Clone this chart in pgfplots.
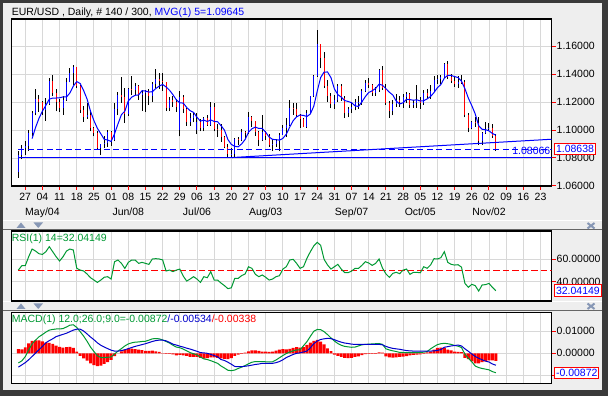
\documentclass[border=0pt]{standalone}
\usepackage{pgfplots}
\pgfplotsset{compat=1.18}
\usepackage{pgfplotstable}
\usepackage{fontspec}
\setmainfont{Liberation Sans}
\definecolor{framec}{HTML}{3A3A3A}
\definecolor{bgc}{HTML}{EEEEEE}
\definecolor{gridc}{HTML}{D8D8D8}
\definecolor{rsig}{HTML}{009933}
\definecolor{iconc}{HTML}{8797B5}
\definecolor{sigb}{HTML}{0000CC}
\definecolor{lblue}{HTML}{0000FF}
\newcommand{\fs}{\fontsize{10.5}{12}\selectfont}

\pgfplotstableread{
t o h l c ma
-2 1.0700 1.0848 1.0660 1.0825 nan
-1 1.0825 1.0890 1.0790 1.0873 nan
0 1.0873 1.0923 1.0818 1.0887 nan
1 1.0887 1.0997 1.0850 1.0982 nan
2 1.0982 1.1137 1.0960 1.1125 1.09384
3 1.1125 1.1290 1.1105 1.1224 1.10182
4 1.1224 1.1250 1.1130 1.1198 1.10832
5 1.1198 1.1205 1.1110 1.1146 1.11350
6 1.1146 1.1230 1.1065 1.1185 1.11756
7 1.1185 1.1370 1.1180 1.1348 1.12202
8 1.1348 1.1392 1.1240 1.1264 1.12282
9 1.1264 1.1290 1.1133 1.1200 1.12286
10 1.1200 1.1224 1.1130 1.1155 1.12304
11 1.1155 1.1245 1.1110 1.1215 1.12364
12 1.1215 1.1375 1.1210 1.1345 1.12358
13 1.1345 1.1445 1.1340 1.1407 1.12644
14 1.1407 1.1467 1.1325 1.1447 1.13138
15 1.1447 1.1452 1.1300 1.1316 1.13460
16 1.1316 1.1320 1.1120 1.1146 1.13322
17 1.1146 1.1170 1.1060 1.1093 1.12818
18 1.1093 1.1190 1.1080 1.1104 1.12212
19 1.1104 1.1140 1.0990 1.1012 1.11342
20 1.1012 1.1020 1.0955 1.0978 1.10666
21 1.0978 1.0990 1.0865 1.0874 1.10122
22 1.0874 1.0900 1.0820 1.0897 1.09730
23 1.0897 1.0960 1.0870 1.0906 1.09334
24 1.0906 1.1000 1.0880 1.0987 1.09284
25 1.0987 1.0990 1.0887 1.0926 1.09180
26 1.0926 1.1190 1.0920 1.1151 1.09734
27 1.1151 1.1275 1.1105 1.1247 1.10434
28 1.1247 1.1380 1.1195 1.1238 1.11098
29 1.1238 1.1300 1.1050 1.1112 1.11348
30 1.1112 1.1300 1.1100 1.1290 1.12076
31 1.1290 1.1385 1.1250 1.1285 1.12344
32 1.1285 1.1335 1.1250 1.1315 1.12480
33 1.1315 1.1320 1.1215 1.1251 1.12506
34 1.1251 1.1285 1.1135 1.1263 1.12808
35 1.1263 1.1285 1.1130 1.1280 1.12788
36 1.1280 1.1295 1.1180 1.1245 1.12708
37 1.1245 1.1345 1.1200 1.1330 1.12738
38 1.1330 1.1435 1.1300 1.1362 1.12960
39 1.1362 1.1405 1.1295 1.1350 1.13134
40 1.1350 1.1410 1.1280 1.1340 1.13254
41 1.1340 1.1345 1.1135 1.1157 1.13078
42 1.1157 1.1235 1.1135 1.1212 1.12842
43 1.1212 1.1245 1.1165 1.1202 1.12522
44 1.1202 1.1220 1.1130 1.1165 1.12152
45 1.1000 1.1280 1.0955 1.1235 1.11942
46 1.1235 1.1250 1.1120 1.1147 1.11922
47 1.1147 1.1155 1.1030 1.1056 1.11610
48 1.1056 1.1120 1.1030 1.1086 1.11378
49 1.1086 1.1125 1.1055 1.1107 1.11262
50 1.1000 1.1120 1.0970 1.1056 1.10904
51 1.1056 1.1080 1.0990 1.1014 1.10638
52 1.1014 1.1095 1.0990 1.1088 1.10702
53 1.1088 1.1110 1.1030 1.1039 1.10608
54 1.1039 1.1200 1.1030 1.1162 1.10718
55 1.1162 1.1190 1.0990 1.1004 1.10614
56 1.1004 1.1040 1.0950 1.1002 1.10590
57 1.1002 1.1045 1.0915 1.0948 1.10310
58 1.0948 1.0960 1.0870 1.0878 1.09988
59 1.0878 1.0900 1.0810 1.0826 1.09316
60 1.0826 1.0875 1.0808 1.0831 1.08970
61 1.0831 1.0945 1.0810 1.0935 1.08836
62 1.0935 1.0950 1.0890 1.0929 1.08798
63 1.0929 1.1010 1.0920 1.0983 1.09008
64 1.0983 1.0990 1.0940 1.0982 1.09320
65 1.0982 1.1130 1.0975 1.1090 1.09838
66 1.1090 1.1100 1.1020 1.1061 1.10090
67 1.1061 1.1065 1.0960 1.0989 1.10210
68 1.0989 1.0990 1.0885 1.0932 1.10108
69 1.0932 1.1110 1.0920 1.0983 1.10110
70 1.0983 1.0990 1.0930 1.0955 1.09840
71 1.0955 1.0970 1.0880 1.0891 1.09500
72 1.0891 1.0935 1.0850 1.0903 1.09328
73 1.0903 1.0935 1.0880 1.0923 1.09310
74 1.0923 1.0980 1.0850 1.0967 1.09278
75 1.0967 1.1035 1.0965 1.1017 1.09402
76 1.1017 1.1085 1.0950 1.1039 1.09698
77 1.1039 1.1215 1.1030 1.1160 1.10212
78 1.1160 1.1190 1.1110 1.1150 1.10666
79 1.1150 1.1190 1.1090 1.1106 1.10944
80 1.1106 1.1115 1.1015 1.1080 1.11070
81 1.1080 1.1085 1.1020 1.1025 1.11042
82 1.1025 1.1145 1.1015 1.1121 1.10964
83 1.1121 1.1245 1.1115 1.1241 1.11146
84 1.1241 1.1395 1.1235 1.1385 1.11704
85 1.1385 1.1714 1.1380 1.1612 1.12768
86 1.1612 1.1615 1.1440 1.1516 1.13750
87 1.1516 1.1560 1.1300 1.1317 1.14142
88 1.1317 1.1360 1.1200 1.1242 1.14144
89 1.1242 1.1265 1.1155 1.1183 1.13740
90 1.1183 1.1250 1.1150 1.1211 1.12938
91 1.1211 1.1330 1.1200 1.1312 1.12530
92 1.1312 1.1330 1.1210 1.1226 1.12348
93 1.1226 1.1245 1.1085 1.1120 1.12104
94 1.1120 1.1165 1.1090 1.1150 1.12038
95 1.1150 1.1190 1.1120 1.1167 1.11950
96 1.1167 1.1225 1.1140 1.1202 1.11730
97 1.1202 1.1245 1.1150 1.1203 1.11684
98 1.1203 1.1290 1.1180 1.1281 1.12006
99 1.1281 1.1360 1.1270 1.1338 1.12382
100 1.1338 1.1370 1.1300 1.1318 1.12684
101 1.1318 1.1330 1.1245 1.1262 1.12804
102 1.1262 1.1305 1.1245 1.1286 1.12970
103 1.1286 1.1435 1.1275 1.1431 1.13270
104 1.1431 1.1460 1.1285 1.1303 1.13200
105 1.1303 1.1330 1.1180 1.1195 1.12954
106 1.1195 1.1210 1.1085 1.1134 1.12698
107 1.1134 1.1215 1.1105 1.1187 1.12500
108 1.1187 1.1255 1.1165 1.1215 1.12068
109 1.1215 1.1245 1.1165 1.1199 1.11860
110 1.1199 1.1260 1.1160 1.1239 1.11948
111 1.1239 1.1275 1.1195 1.1256 1.12192
112 1.1256 1.1265 1.1160 1.1176 1.12170
113 1.1176 1.1215 1.1160 1.1194 1.12128
114 1.1194 1.1320 1.1160 1.1214 1.12158
115 1.1214 1.1235 1.1150 1.1194 1.12068
116 1.1194 1.1285 1.1180 1.1267 1.12090
117 1.1267 1.1290 1.1220 1.1243 1.12224
118 1.1243 1.1325 1.1220 1.1279 1.12394
119 1.1279 1.1385 1.1270 1.1356 1.12678
120 1.1356 1.1395 1.1330 1.1366 1.13022
121 1.1366 1.1390 1.1330 1.1381 1.13250
122 1.1381 1.1480 1.1370 1.1470 1.13704
123 1.1470 1.1495 1.1365 1.1381 1.13908
124 1.1381 1.1400 1.1335 1.1350 1.13896
125 1.1350 1.1380 1.1310 1.1327 1.13818
126 1.1327 1.1385 1.1300 1.1345 1.13746
127 1.1345 1.1390 1.1330 1.1343 1.13492
128 1.1343 1.1360 1.1090 1.1108 1.12946
129 1.1108 1.1125 1.0985 1.1016 1.12278
130 1.1016 1.1065 1.1005 1.1058 1.11740
131 1.1058 1.1090 1.1025 1.1048 1.11146
132 1.1048 1.1095 1.0895 1.0925 1.10310
133 1.0925 1.0985 1.0895 1.0977 1.10048
134 1.0977 1.1060 1.0970 1.1004 1.10024
135 1.1004 1.1050 1.0990 1.1015 1.09938
136 1.1015 1.1040 1.0945 1.0955 1.09752
137 1.0955 1.0975 1.0850 1.0864 1.09630
}\ohlc

\pgfplotstableread{
t rsi macd sig hist
-2 50.4 -0.0043 -0.0062 0.0019
-1 54.3 -0.0034 -0.0052 0.0018
0 54.3 -0.0015 -0.0042 0.0027
1 62.3 0.0015 -0.0029 0.0044
2 69.2 0.0042 -0.0014 0.0056
3 67.4 0.0059 0.0001 0.0058
4 65.0 0.0074 0.0016 0.0058
5 64.4 0.0084 0.0031 0.0053
6 66.8 0.0095 0.0047 0.0048
7 71.3 0.0104 0.0057 0.0047
8 66.8 0.0107 0.0065 0.0042
9 62.3 0.0109 0.0075 0.0034
10 58.5 0.0109 0.0080 0.0029
11 62.3 0.0111 0.0085 0.0026
12 67.4 0.0118 0.0090 0.0028
13 69.2 0.0126 0.0097 0.0029
14 68.3 0.0128 0.0104 0.0024
15 52.0 0.0116 0.0108 0.0008
16 50.4 0.0097 0.0108 -0.0011
17 49.6 0.0077 0.0100 -0.0023
18 46.9 0.0054 0.0087 -0.0033
19 43.6 0.0028 0.0073 -0.0045
20 41.5 0.0008 0.0061 -0.0053
21 39.4 -0.0011 0.0047 -0.0058
22 41.5 -0.0019 0.0036 -0.0055
23 44.0 -0.0019 0.0028 -0.0047
24 44.5 -0.0018 0.0021 -0.0039
25 42.4 -0.0016 0.0014 -0.0030
26 57.9 -0.0003 0.0010 -0.0013
27 59.4 0.0010 0.0010 0.0000
28 56.4 0.0021 0.0012 0.0009
29 51.9 0.0033 0.0016 0.0017
30 57.3 0.0042 0.0021 0.0021
31 59.4 0.0047 0.0026 0.0021
32 59.4 0.0050 0.0031 0.0019
33 56.4 0.0051 0.0035 0.0016
34 57.3 0.0053 0.0039 0.0014
35 56.4 0.0054 0.0043 0.0011
36 55.5 0.0059 0.0048 0.0011
37 60.3 0.0065 0.0053 0.0012
38 60.6 0.0066 0.0057 0.0009
39 60.3 0.0065 0.0059 0.0006
40 59.5 0.0060 0.0059 0.0001
41 49.6 0.0053 0.0056 -0.0003
42 50.4 0.0046 0.0049 -0.0003
43 49.0 0.0036 0.0041 -0.0005
44 50.4 0.0028 0.0037 -0.0009
45 51.3 0.0025 0.0032 -0.0007
46 45.0 0.0019 0.0028 -0.0009
47 40.6 0.0011 0.0023 -0.0012
48 42.4 0.0003 0.0019 -0.0016
49 44.5 -0.0002 0.0014 -0.0016
50 42.4 -0.0007 0.0009 -0.0016
51 39.4 -0.0017 0.0003 -0.0020
52 44.5 -0.0025 0.0002 -0.0024
53 43.6 -0.0028 0.0000 -0.0022
54 49.0 -0.0033 -0.0005 -0.0018
55 41.5 -0.0039 -0.0010 -0.0018
56 41.5 -0.0045 -0.0016 -0.0020
57 38.8 -0.0057 -0.0028 -0.0023
58 36.5 -0.0066 -0.0032 -0.0025
59 33.8 -0.0076 -0.0040 -0.0026
60 34.6 -0.0078 -0.0049 -0.0022
61 43.0 -0.0075 -0.0059 -0.0012
62 43.0 -0.0068 -0.0060 -0.0006
63 45.5 -0.0062 -0.0060 -0.0002
64 46.9 -0.0055 -0.0058 0.0003
65 53.4 -0.0047 -0.0056 0.0009
66 51.9 -0.0040 -0.0053 0.0013
67 46.6 -0.0037 -0.0050 0.0013
68 44.5 -0.0037 -0.0048 0.0011
69 46.0 -0.0037 -0.0045 0.0008
70 44.0 -0.0038 -0.0045 0.0007
71 41.5 -0.0039 -0.0045 0.0006
72 42.4 -0.0038 -0.0045 0.0007
73 44.5 -0.0030 -0.0042 0.0012
74 45.4 -0.0020 -0.0037 0.0017
75 51.3 -0.0010 -0.0029 0.0019
76 53.4 -0.0001 -0.0019 0.0018
77 59.4 0.0006 -0.0012 0.0020
78 60.0 0.0011 -0.0005 0.0024
79 56.4 0.0015 0.0000 0.0028
80 52.0 0.0015 0.0002 0.0025
81 53.4 0.0034 0.0006 0.0028
82 60.9 0.0052 0.0010 0.0038
83 66.8 0.0076 0.0025 0.0048
84 72.0 0.0099 0.0043 0.0056
85 75.2 0.0107 0.0055 0.0060
86 72.5 0.0106 0.0062 0.0052
87 60.0 0.0097 0.0065 0.0040
88 55.0 0.0084 0.0067 0.0022
89 51.3 0.0069 0.0066 0.0010
90 53.4 0.0055 0.0061 -0.0006
91 55.5 0.0044 0.0055 -0.0011
92 51.3 0.0036 0.0050 -0.0016
93 48.1 0.0031 0.0046 -0.0020
94 48.1 0.0029 0.0044 -0.0022
95 49.5 0.0027 0.0041 -0.0020
96 51.9 0.0028 0.0040 -0.0016
97 51.9 0.0033 0.0040 -0.0014
98 54.6 0.0038 0.0040 -0.0008
99 57.9 0.0040 0.0040 -0.0004
100 56.7 0.0041 0.0040 -0.0003
101 54.6 0.0042 0.0040 -0.0002
102 56.4 0.0043 0.0040 -0.0002
103 60.3 0.0044 0.0040 0.0004
104 52.2 0.0040 0.0038 0.0003
105 47.0 0.0020 0.0031 -0.0014
106 43.9 0.0015 0.0026 -0.0018
107 47.5 0.0011 0.0022 -0.0019
108 48.4 0.0008 0.0020 -0.0018
109 47.2 0.0004 0.0018 -0.0016
110 50.4 0.0004 0.0015 -0.0015
111 51.3 0.0003 0.0012 -0.0013
112 46.6 0.0003 0.0011 -0.0009
113 48.4 0.0003 0.0010 -0.0007
114 48.4 0.0003 0.0010 -0.0006
115 48.0 0.0004 0.0010 -0.0005
116 53.4 0.0005 0.0010 -0.0003
117 52.0 0.0008 0.0010 0.0004
118 55.0 0.0020 0.0010 0.0008
119 60.6 0.0030 0.0011 0.0016
120 60.3 0.0039 0.0013 0.0024
121 61.5 0.0043 0.0017 0.0026
122 66.8 0.0045 0.0027 0.0023
123 57.3 0.0043 0.0030 0.0016
124 55.5 0.0040 0.0033 0.0013
125 54.9 0.0035 0.0035 0.0008
126 55.2 0.0032 0.0037 0.0006
127 53.0 0.0026 0.0033 0.0005
128 38.5 -0.0004 0.0020 -0.0020
129 35.0 -0.0022 0.0009 -0.0026
130 37.7 -0.0038 -0.0003 -0.0036
131 36.5 -0.0057 -0.0014 -0.0045
132 31.7 -0.0064 -0.0022 -0.0045
133 37.1 -0.0068 -0.0029 -0.0040
134 37.4 -0.0071 -0.0035 -0.0036
135 38.5 -0.0074 -0.0039 -0.0032
136 35.0 -0.0082 -0.0048 -0.0032
137 32.04 -0.00872 -0.00534 -0.00338
}\ind

\pgfplotsset{
  panel/.style={
    scale only axis, width=540pt, xmin=-4, xmax=153.2,
    axis line style={black, line width=1.4pt},
    axis background/.style={fill=white},
    grid=major, grid style={gridc, line width=0.9pt},
    xtick={0,5,...,150},
    tick style={red, line width=1pt}, tick align=outside, major tick length=4pt,
    ytick pos=right, yticklabel pos=right,
    yticklabel style={font=\fs, anchor=west, xshift=-2.3pt},
    xticklabel style={font=\fs},
    scaled y ticks=false,
  },
}
\tikzset{
  valbox/.style={draw=red, line width=1pt, fill=white, text=lblue, font=\fs,
    anchor=west, inner xsep=1.5pt, inner ysep=2pt},
}

\begin{document}
\begin{tikzpicture}
% frame and background
\begin{scope}[x=1pt,y=1pt]
\fill[framec] (0,0) rectangle (608,396);
\fill[bgc] (3,6) rectangle (602,393);
\draw[white, line width=1pt] (3,175.5) -- (602,175.5);
\draw[black!60, line width=1pt] (3,166) -- (602,166);
\draw[white, line width=1pt] (3,94) -- (602,94);
\draw[black!60, line width=1pt] (3,85) -- (602,85);
\end{scope}

% ---------------- main price panel ----------------
\begin{axis}[panel, at={(11.5pt,210pt)}, anchor=south west, height=167pt,
  ymin=1.06, ymax=1.1793,
  ytick={1.06,1.08,1.10,1.12,1.14,1.16},
  yticklabels={1.06000,1.08000,1.10000,1.12000,1.14000,1.16000},
  xtick pos=bottom,
  xticklabels={27,04,11,18,25,01,08,15,22,29,06,13,20,27,03,10,17,24,31,07,14,21,28,05,12,19,26,02,09,16,23},
  xticklabel style={anchor=base, yshift=-10.7pt},
  extra x ticks={5,30,50,70,95,115,135},
  extra x tick labels={May/04,Jun/08,Jul/06,Aug/03,Sep/07,Oct/05,Nov/02},
  extra x tick style={grid=none, xticklabel style={anchor=base, yshift=-14.6pt}},
]
% wicks
\addplot[black, line width=1pt, quiver={u=0, v=\thisrow{h}-\thisrow{l}}]
  table[x=t, y=l] {\ohlc};
% up bodies
\addplot[lblue, line width=1pt, quiver={u=0, v=\thisrow{c}-\thisrow{o}},
  x filter/.expression={\thisrow{c}>=\thisrow{o} ? x : nan}]
  table[x=t, y=o] {\ohlc};
% down bodies
\addplot[red, line width=1pt, quiver={u=0, v=\thisrow{c}-\thisrow{o}},
  x filter/.expression={\thisrow{c}<\thisrow{o} ? x : nan}]
  table[x=t, y=o] {\ohlc};
% moving average
\addplot[lblue, line width=1pt] table[x=t, y=ma] {\ohlc};
% horizontal lines
\addplot[draw=lblue, line width=1pt, dash pattern=on 6pt off 3.5pt] coordinates {(-2,1.08638) (153.2,1.08638)};
\addplot[draw=lblue, line width=1pt] coordinates {(-2,1.08066) (153.2,1.08066)};
\addplot[draw=lblue, line width=1pt] coordinates {(60,1.0803) (153.2,1.0934)};
\node[anchor=base east, font=\fs, text=lblue, inner sep=0pt] at (axis cs:152.9,1.0825) {1.08066};
\coordinate (pv) at (axis cs:153.2,1.08638);
\end{axis}

% ---------------- RSI panel ----------------
\begin{axis}[panel, at={(11.5pt,95pt)}, anchor=south west, height=70pt,
  ymin=22.8, ymax=85.3,
  ytick={40,60}, yticklabels={40.00000,60.00000},
  xmajorticks=false, xticklabels={},
]
\addplot[red, line width=1pt, dash pattern=on 6.5pt off 3pt] coordinates {(-2,50) (153.2,50)};
\addplot[rsig, line width=1pt] table[x=t, y=rsi] {\ind};
\coordinate (rv) at (axis cs:153.2,32.04149);
\end{axis}

% ---------------- MACD panel ----------------
\begin{axis}[panel, at={(11.5pt,12.7pt)}, anchor=south west, height=71pt,
  ymin=-0.01345, ymax=0.01839,
  ytick={-0.01,0,0.01}, yticklabels={-0.01000,0.00000,0.01000},
  xmajorticks=false, xticklabels={},
]
\addplot[ybar, bar width=0.85, fill=red, draw=none] table[x=t, y=hist] {\ind};
\addplot[rsig, line width=1pt] table[x=t, y=macd] {\ind};
\addplot[sigb, line width=1pt] table[x=t, y=sig] {\ind};
\coordinate (mv) at (axis cs:153.2,-0.00872);
\end{axis}

\begin{scope}[x=1pt,y=1pt]
% value boxes
\node[valbox] at ([xshift=2.5pt]pv) {1.08638};
\node[valbox] at ([xshift=2.5pt]rv) {32.04149};
\node[valbox] at ([xshift=2.5pt]mv) {-0.00872};

% titles
\node[anchor=base west, font=\fs, inner sep=0pt] at (11.7,380.2)
  {EUR/USD , Daily, \# 140 / 300, \textcolor{lblue}{MVG(1) 5=1.09645}};
\node[anchor=base west, font=\fs, inner sep=0pt, text=rsig] at (11.7,154.5)
  {RSI(1) 14=32.04149};
\node[anchor=base west, font=\fs, inner sep=0pt] at (11.7,73.5)
  {\textcolor{rsig}{MACD(1) 12.0;26.0;9.0=-0.00872}\textcolor{sigb}{/-0.00534}\textcolor{red}{/-0.00338}};

% panel icons
\fill[iconc] (16.5,168) -- (25.5,168) -- (21,173.5) -- cycle;
\fill[iconc] (33.5,173.5) -- (43,173.5) -- (38.25,168) -- cycle;
\fill[iconc] (16.5,87) -- (25.5,87) -- (21,92.5) -- cycle;
\fill[iconc] (33.5,92.5) -- (43,92.5) -- (38.25,87) -- cycle;
\draw[iconc, line width=2pt] (587.5,173) -- (594.5,167.5) (587.5,167.5) -- (594.5,173);
\draw[iconc, line width=2pt] (587.5,92.5) -- (594.5,87) (587.5,87) -- (594.5,92.5);
\end{scope}
\end{tikzpicture}
\end{document}
